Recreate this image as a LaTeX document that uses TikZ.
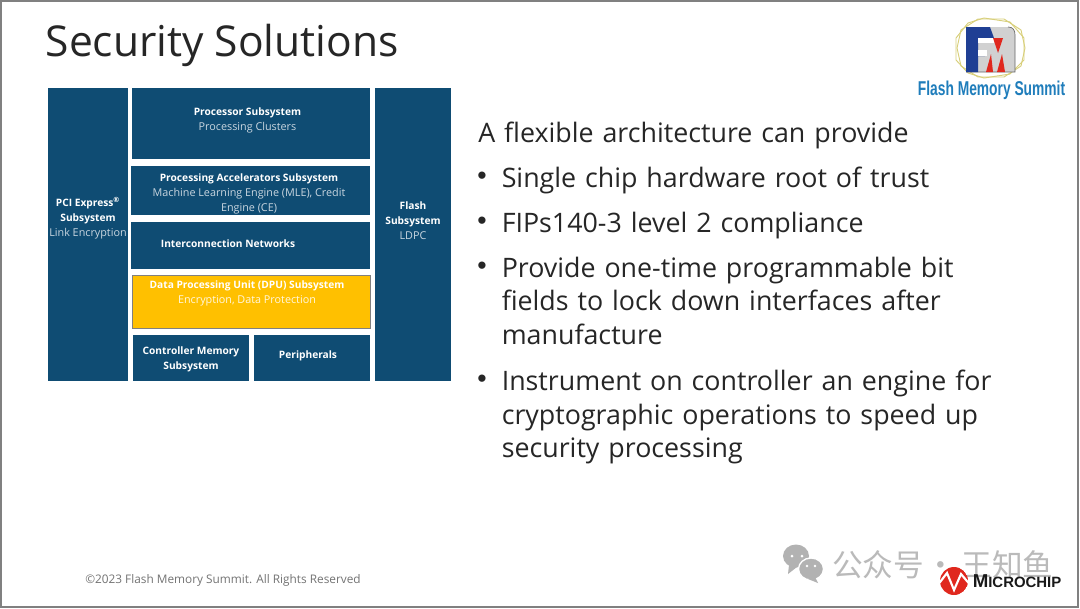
\documentclass[tikz,border=0pt]{standalone}
\usepackage{fontspec}
\setmainfont{Open Sans}
\newfontfamily\cjk{Noto Sans CJK SC}
\newfontfamily\logofont{Liberation Sans}
\definecolor{subblue}{HTML}{0F4C73}
\definecolor{dpugold}{HTML}{FFC000}
\definecolor{lblsoft}{HTML}{C9D6E0}
\definecolor{logoblue}{HTML}{1F7DBB}
\definecolor{fmsnavy}{HTML}{1F3F94}
\definecolor{fmsgold}{HTML}{D8CF7A}
\definecolor{chipred}{HTML}{E0281E}
\tikzset{
  subsys/.style={fill=subblue},
  lbl/.style={align=center, text=white, font=\fontsize{8.1}{11.3}\selectfont, inner sep=0pt},
  bullet/.style={anchor=north west, align=left, text width=400pt, inner sep=0pt, font=\fontsize{20.1}{25}\selectfont, text=black!85},
  dotmark/.style={anchor=center, inner sep=0pt, font=\logofont\fontsize{20}{25}\selectfont, text=black!85}
}
\newcommand{\soft}[1]{{\color{lblsoft}#1}}
\newcommand{\heading}[1]{{\fontsize{7.65}{11.3}\selectfont\bfseries #1}}
\begin{document}
\begin{tikzpicture}[x=0.75pt, y=-0.75pt]
  \useasboundingbox (0,0) rectangle (1080,608);
  % frame
  \draw[gray, line width=1.5pt, fill=white] (1,1) rectangle (1078,606.5);

  % title
  \node[anchor=west, inner sep=0pt, font=\fontsize{31.9}{38}\selectfont, text=black!85] (title) at (45.5,45) {Security Solutions};

  % left column and right column
  \path[subsys] (48,87.5) rectangle (127.5,381);
  \node[lbl] (pci) at (88,218.5) {\heading{PCI Express\textsuperscript{®}}\\\heading{Subsystem}\\\soft{Link Encryption}};
  \path[subsys] (375,87.5) rectangle (451,381);
  \node[lbl] (flash) at (413,220.5) {\heading{Flash}\\\heading{Subsystem}\\\soft{LDPC}};

  % middle blocks
  \path[subsys] (132,87.5) rectangle (370,159);
  \node[lbl] (proc) at (247.5,120) {\heading{Processor Subsystem}\\\soft{Processing Clusters}};
  \path[subsys] (131,166) rectangle (370,215);
  \node[lbl] (accel) at (249,193.5) {\heading{Processing Accelerators Subsystem}\\\soft{Machine Learning Engine (MLE), Credit}\\\soft{Engine (CE)}};
  \path[subsys] (131,222) rectangle (370,269);
  \node[lbl] (inter) at (228,244) {\heading{Interconnection Networks}};
  \path[draw=gray, line width=0.6pt, fill=dpugold] (132.5,275.5) rectangle (370,328);
  \node[lbl] (dpu) at (247,293) {\heading{Data Processing Unit (DPU) Subsystem}\\{\color{white!88!dpugold}Encryption, Data Protection}};
  \path[subsys] (133,335) rectangle (249,381);
  \node[lbl] (ctrl) at (191,359) {\heading{Controller Memory}\\\heading{Subsystem}};
  \path[subsys] (254,335) rectangle (370,381);
  \node[lbl] (peri) at (308,356) {\heading{Peripherals}};

  % text on the right
  \node[bullet] (intro) at (478,122) {A flexible architecture can provide};
  \node[dotmark] (dot1) at (482,178.5) {•};
  \node[bullet] (b1) at (501.5,167) {Single chip hardware root of trust};
  \node[dotmark] (dot2) at (482,223.5) {•};
  \node[bullet] (b2) at (501.5,212) {FIPs140-3 level 2 compliance};
  \node[dotmark] (dot3) at (482,268.5) {•};
  \node[bullet] (b3) at (501.5,257) {Provide one-time programmable bit\\fields to lock down interfaces after\\manufacture};
  \node[dotmark] (dot4) at (482,381.5) {•};
  \node[bullet] (b4) at (501.5,370) {Instrument on controller an engine for\\cryptographic operations to speed up\\security processing};

  % footer
  \node[anchor=west, inner sep=0pt, font=\fontsize{8.87}{11}\selectfont, text=black!55] (foot) at (85,580) {©2023 Flash Memory Summit. All Rights Reserved};

  % summit logo
  \draw[fmsgold, line width=0.7pt] (978,19) -- (1004,19) -- (1021,30) -- (1025,48) -- (1021,66) -- (1004,77) -- (978,77) -- (961,66) -- (957,48) -- (961,30) -- cycle;
  \draw[fmsgold, line width=0.7pt] (968,23) -- (984,18) -- (1010,22) -- (1024,38) -- (1024,60) -- (1010,74) -- (984,78) -- (968,73) -- (956,60) -- (956,38) -- cycle;
  \fill[black!18] (966,27) -- (1008,27) .. controls (1013,27) and (1015,30) .. (1015,35) -- (1015,72) -- (966,72) -- cycle;
  \draw[black!60, line width=0.5pt] (1008,27) .. controls (1013,27) and (1015,30) .. (1015,35) -- (1015,72) -- (966,72);
  \fill[fmsnavy] (966,27) -- (990,27) -- (994,38) -- (978,38) -- (978,50) -- (985,50) -- (985,56) -- (978,56) -- (978,72) -- (966,72) -- cycle;
  \fill[white] (978,38) rectangle (994,43);
  \fill[white] (978,50) rectangle (987,56);
  \fill[chipred] (993,38) -- (1003,38) -- (998,53) -- cycle;
  \fill[chipred] (986,72) -- (991,54) -- (993,72) -- cycle;
  \fill[chipred] (997,72) -- (1002,54) -- (1005,72) -- cycle;
  \node[inner sep=0pt, text=logoblue, font=\logofont\bfseries\fontsize{15}{18}\selectfont, xscale=0.69] (summit) at (991.5,90) {Flash Memory Summit};

  % watermark
  \fill[black!30] (796,556) ellipse (13 and 11.5);
  \fill[black!30] (789,565) -- (788,574) -- (797,567) -- cycle;
  \draw[white, line width=1pt, fill=black!30] (811,569) ellipse (12.5 and 11);
  \fill[black!30] (815,577) -- (818,583) -- (808,579) -- cycle;
  \fill[white] (792,556) circle (1.5) (802,556) circle (1.5) (807,566) circle (1.3) (815,566) circle (1.3);
  \node[anchor=west, inner sep=0pt, text=black!27, font=\cjk\fontsize{23}{25}\selectfont] (wm) at (832,565) {公众号\hspace{1pt}·\hspace{4pt}王知鱼};

  % microchip logo
  \begin{scope}
    \clip (954,581) circle (14);
    \fill[chipred] (954,581) circle (14);
    \draw[white, line width=1.6pt] (937,586) -- (947,573) -- (954,590) -- (961,574) -- (972,587);
  \end{scope}
  \node[anchor=west, inner sep=0pt, text=black!90, font=\logofont\bfseries\fontsize{14}{14}\selectfont] (chip) at (972.5,581) {M\fontsize{11.2}{12}\selectfont ICROCHIP};
\end{tikzpicture}
\end{document}
